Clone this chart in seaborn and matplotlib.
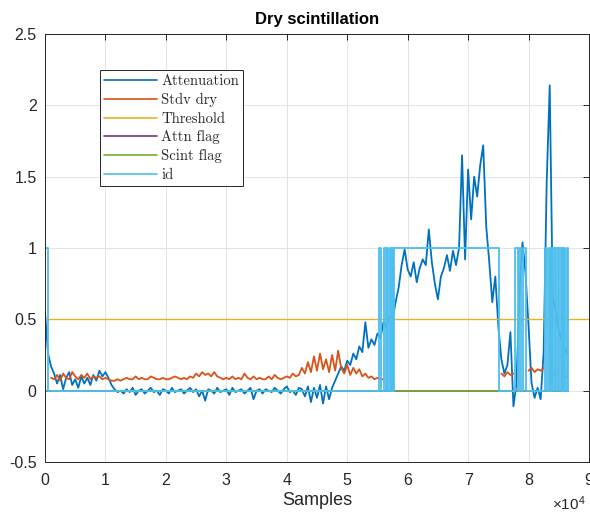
import numpy as np
import pandas as pd
import seaborn as sns
import matplotlib
matplotlib.use("Agg")
import matplotlib.pyplot as plt
from matplotlib.lines import Line2D
from matplotlib.ticker import FuncFormatter

# ---------------------------------------------------------------- data
# sample index grid (every 500 samples)
samples = np.arange(0, 87000, 500)

attenuation = [
    0.55, 0.26, 0.17, 0.12, 0.05, 0.11, 0.01, 0.09, 0.13, 0.04,
    0.08, 0.02, 0.10, 0.05, 0.09, 0.04, 0.11, 0.07, 0.14, 0.10,
    0.13, 0.09, 0.04, 0.01, -0.01, 0.00, -0.02, 0.01, -0.01, 0.02,
    -0.03, 0.00, 0.01, -0.02, 0.00, 0.02, -0.01, 0.00, -0.03, 0.01,
    0.00, -0.02, 0.02, -0.01, 0.00, 0.01, -0.02, 0.00, 0.02, -0.01,
    0.01, -0.04, 0.00, -0.07, 0.01, 0.00, -0.02, 0.02, -0.01, 0.00,
    0.01, -0.03, 0.02, -0.01, 0.00, 0.01, -0.02, 0.00, 0.02, -0.06,
    0.00, 0.01, -0.02, 0.01, 0.00, -0.01, 0.02, 0.00, -0.02, 0.01,
    0.03, -0.01, 0.00, -0.03, 0.02, 0.01, -0.04, 0.03, -0.08, 0.02,
    -0.05, 0.04, -0.09, 0.03, -0.06, 0.02, 0.07, 0.12, 0.17, 0.14,
    0.21, 0.18, 0.26, 0.22, 0.31, 0.27, 0.48, 0.30, 0.36, 0.32,
    0.40, 0.37, 0.48, 0.44, 0.52, 0.50, 0.62, 0.72, 0.88, 0.99,
    0.85, 0.80, 0.90, 0.76, 0.86, 0.92, 0.88, 1.13, 0.90, 0.75,
    0.64, 0.80, 0.86, 0.95, 0.84, 0.98, 0.88, 1.00, 1.65, 0.92,
    1.55, 1.20, 1.50, 1.36, 1.58, 1.72, 1.15, 0.90, 0.62, 0.80,
    0.45, 0.22, 0.12, 0.18, 0.41, -0.11, 0.05, 0.70, 1.04, 0.82,
    0.45, 0.05, -0.05, 0.02, -0.06, 0.27, 1.46, 2.14, 0.65, 0.55,
    0.42, 0.35, 0.30, 0.25,
]

nan = np.nan
stdv_dry = [
    nan, nan, 0.09, 0.08, 0.11, 0.07, 0.12, 0.09, 0.08, 0.13,
    0.10, 0.08, 0.11, 0.09, 0.12, 0.08, 0.10, 0.09, 0.10, 0.08,
    0.09, 0.08, 0.07, 0.07, 0.08, 0.07, 0.08, 0.09, 0.08, 0.08,
    0.10, 0.08, 0.09, 0.08, 0.08, 0.10, 0.09, 0.08, 0.08, 0.09,
    0.08, 0.08, 0.09, 0.10, 0.09, 0.08, 0.09, 0.08, 0.10, 0.09,
    0.12, 0.10, 0.13, 0.11, 0.12, 0.10, 0.13, 0.10, 0.09, 0.08,
    0.09, 0.08, 0.10, 0.08, 0.09, 0.08, 0.12, 0.09, 0.08, 0.10,
    0.08, 0.09, 0.08, 0.08, 0.10, 0.08, 0.11, 0.09, 0.08, 0.09,
    0.10, 0.09, 0.12, 0.10, 0.11, 0.16, 0.12, 0.20, 0.13, 0.24,
    0.14, 0.26, 0.15, 0.22, 0.13, 0.25, 0.14, 0.28, 0.16, 0.12,
    0.18, 0.11, 0.16, 0.12, 0.15, 0.10, 0.12, 0.09, 0.10, 0.08,
    0.09, 0.08, 0.08, nan, nan, nan, nan, nan, nan, nan,
    nan, nan, nan, nan, nan, nan, nan, nan, nan, nan,
    nan, nan, nan, nan, nan, nan, nan, nan, nan, nan,
    nan, nan, nan, nan, nan, nan, nan, nan, nan, nan,
    nan, 0.12, 0.10, 0.13, 0.11, 0.12, nan, nan, nan, nan,
    0.14, 0.16, 0.13, 0.15, 0.14, 0.16, nan, nan, 0.12, 0.11,
    nan, 0.11, 0.10, 0.10,
]

threshold_x = [0, 90000]
threshold = [0.5, 0.5]

flag_x = [0, 86500]
attn_flag = [0, 0]
scint_flag = [0, 0]

# id switches (value holds until the next switch)
id_x = [0, 500, 55300, 55600, 56100, 56400, 56600, 56800, 57000, 57200,
        57400, 57600, 57800, 75100, 77800, 78200, 78500, 78800, 79000, 79600,
        82800, 83100, 83300, 83500, 83700, 83900, 84100, 84400, 84600, 84800,
        85000, 85300, 85500, 85700, 85900, 86100, 86300, 86500]
id_val = [1, 0, 1, 0, 1, 0, 1, 0, 1, 0,
          1, 0, 1, 0, 1, 0, 1, 0, 1, 0,
          1, 0, 1, 0, 1, 0, 1, 0, 1, 0,
          1, 0, 1, 0, 1, 0, 1, 0]

x_ticks = [0, 10000, 20000, 30000, 40000, 50000, 60000, 70000, 80000, 90000]
y_ticks = [-0.5, 0, 0.5, 1, 1.5, 2, 2.5]

labels = ["Attenuation", "Stdv dry", "Threshold", "Attn flag", "Scint flag", "id"]
colors = ["#0072BD", "#D95319", "#EDB120", "#7E2F8E", "#77AC30", "#4DBEEE"]

# ---------------------------------------------------------------- style
sns.set_style("white")
plt.rcParams["font.family"] = ["Liberation Sans", "DejaVu Sans"]
plt.rcParams["mathtext.fontset"] = "custom"
plt.rcParams["mathtext.rm"] = "Liberation Sans"
plt.rcParams["mathtext.it"] = "Liberation Sans:italic"

fig = plt.figure(figsize=(5.9, 5.13), dpi=100)
ax = fig.add_axes([45 / 590, 1 - 462 / 513, 544 / 590, 428 / 513])

LW = 1.3

att_df = pd.DataFrame({"Samples": samples, "value": attenuation})
sns.lineplot(data=att_df, x="Samples", y="value", color=colors[0],
             lw=LW, estimator=None, ax=ax)

std_arr = np.asarray(stdv_dry, dtype=float)
std_df = pd.DataFrame({"Samples": samples, "value": std_arr,
                       "seg": np.cumsum(np.isnan(std_arr))}).dropna()
sns.lineplot(data=std_df, x="Samples", y="value", units="seg",
             color=colors[1], lw=LW, estimator=None, ax=ax)

sns.lineplot(x=threshold_x, y=threshold, color=colors[2], lw=1.0,
             estimator=None, ax=ax)
sns.lineplot(x=flag_x, y=attn_flag, color=colors[3], lw=1.2,
             estimator=None, ax=ax)
sns.lineplot(x=flag_x, y=scint_flag, color=colors[4], lw=1.2,
             estimator=None, ax=ax)
sns.lineplot(x=id_x, y=id_val, color=colors[5], lw=1.3,
             drawstyle="steps-post", estimator=None, ax=ax)

# ---------------------------------------------------------------- axes
ax.set_xlim(0, 90000)
ax.set_ylim(-0.5, 2.5)
ax.set_xticks(x_ticks)
ax.set_yticks(y_ticks)
ax.xaxis.set_major_formatter(FuncFormatter(lambda v, p: f"{v / 1e4:g}"))
ax.yaxis.set_major_formatter(FuncFormatter(lambda v, p: f"{v:g}"))
ax.grid(True, color="#e3e3e3", lw=0.7)
ax.set_axisbelow(True)
for sp in ax.spines.values():
    sp.set_visible(True)
    sp.set_color("#262626")
    sp.set_linewidth(0.7)
ax.tick_params(direction="in", top=True, right=True, length=4, width=0.7,
               colors="#262626", labelsize=11.5, labelcolor="#262626")
ax.tick_params(axis="x", pad=8)
ax.tick_params(axis="y", pad=6)

ax.set_title("Dry scintillation", fontsize=12, fontweight="bold",
             color="black", pad=7)
ax.set_xlabel("Samples", fontsize=13, color="#262626", labelpad=3)
ax.set_ylabel("")
fig.text(586 / 590, 1 - 504 / 513, "×10$^{4}$", fontsize=11,
         color="#262626", ha="right", va="center")

handles = [Line2D([0], [0], color=c, lw=1.2) for c in colors]
leg = ax.legend(handles, labels, loc="upper left",
                bbox_to_anchor=(0.101, 0.916), borderaxespad=0,
                prop={"family": "cmr10", "size": 10.5},
                frameon=True, fancybox=False, framealpha=1,
                edgecolor="#262626", handlelength=3.6, handletextpad=0.3,
                labelspacing=0.33, borderpad=0.3)
leg.get_frame().set_linewidth(0.7)

fig.savefig("out.png", dpi=100, facecolor="white")
